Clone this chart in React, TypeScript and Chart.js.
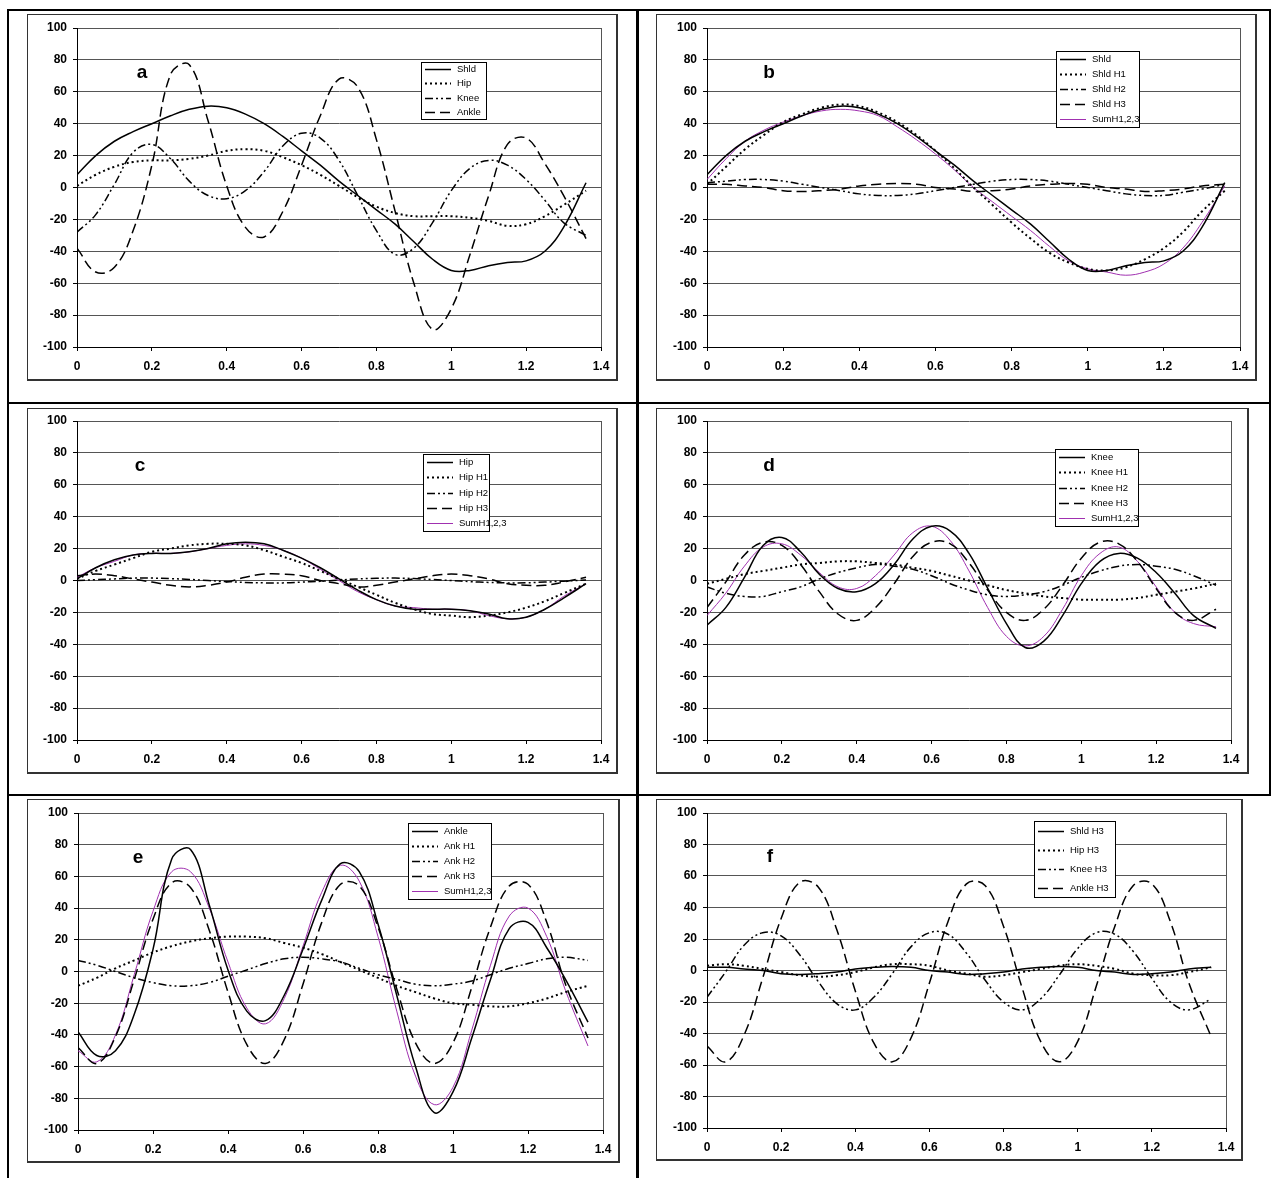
import React, { useEffect, useRef } from 'react';
import { Chart, registerables } from 'chart.js';

Chart.register(...registerables);

// ---------- DATA ----------
const T = [0, 0.05, 0.1, 0.15, 0.2, 0.25, 0.3, 0.35, 0.4, 0.45, 0.5, 0.55, 0.6, 0.65, 0.7, 0.75, 0.8, 0.85, 0.9, 0.95, 1.0, 1.05, 1.1, 1.15, 1.2, 1.25, 1.3, 1.36];

const SHLD = [8, 20, 29, 35, 40, 45, 49, 51, 50, 46, 40, 32, 23, 14, 4, -5, -14, -23, -34, -45, -52, -52, -49, -47, -46, -40, -25, 3];
const SHLD_H1 = [2, 13, 24, 33, 41, 46, 50, 52, 51, 47, 41, 33, 23, 12, 0, -11, -22, -32, -41, -47, -51, -52, -50, -45, -38, -28, -15, -2];
const SHLD_H2 = [3, 4, 5, 5, 4, 2, 0, -2, -4, -5, -5, -4, -2, 0, 2, 4, 5, 5, 4, 2, 0, -2, -4, -5, -5, -3, -1, 2];
const SHLD_H3 = [2, 2, 1, 0, -2, -2.5, -2, -1, 1, 2, 2.5, 2, 0, -1, -2.5, -2, -1, 1, 2, 2.5, 2, 0, -1, -2.5, -2, -1, 1, 2];
const SHLD_SUM = [5, 18, 29, 36, 41, 45, 48, 49, 48, 45, 38, 30, 21, 11, 0, -9, -18, -27, -37, -46, -51, -53, -55, -53, -48, -38, -22, 1];

const HIP = [1, 8, 13, 16, 17, 17, 18, 20, 23, 24, 23, 19, 14, 8, 1, -6, -12, -16, -18, -18, -18, -19, -21, -24, -23, -18, -11, -2];
const HIP_H1 = [1, 6, 10, 14, 18, 20, 22, 23, 23, 22, 19, 15, 11, 6, 1, -4, -9, -14, -18, -21, -22, -23, -22, -20, -17, -13, -8, -2];
const HIP_H2 = [0, 0.5, 1, 1.5, 1.5, 1.2, 0.7, 0, -0.7, -1.2, -1.5, -1.5, -1, -0.5, 0.3, 1, 1.4, 1.5, 1.2, 0.6, 0, -0.7, -1.2, -1.5, -1.4, -1, -0.4, 0.3];
const HIP_H3 = [3, 4, 3, 1, -1, -3, -4, -3, -1, 2, 4, 4, 3, 0, -2, -4, -3, -1, 1, 3, 4, 3, 1, -2, -3, -3, -1, 2];
const HIP_SUM = [2, 8, 12, 16, 17, 17, 18, 20, 22, 23, 22, 19, 14, 7, 0, -7, -12, -16, -17, -18, -18, -19, -22, -24, -23, -18, -10, -2];

const KNEE = [-28, -17, 2, 22, 27, 18, 4, -5, -7, -2, 10, 26, 34, 31, 17, -5, -27, -42, -38, -22, -2, 12, 17, 14, 5, -8, -22, -30];
const KNEE_H1 = [-2, 1, 4, 6, 8, 10, 11, 12, 12, 11, 10, 8, 6, 3, 0, -3, -6, -8, -10, -11, -12, -12, -12, -11, -9, -7, -5, -2];
const KNEE_H2 = [-4, -8, -10, -10, -7, -4, 1, 5, 8, 10, 9, 7, 3, -2, -6, -9, -10, -9, -7, -3, 2, 6, 9, 10, 9, 7, 3, -3];
const KNEE_H3 = [-17, -1, 16, 24, 22, 10, -7, -21, -25, -17, -2, 15, 24, 23, 11, -6, -20, -25, -18, -3, 14, 24, 23, 12, -5, -20, -25, -18];
const KNEE_SUM = [-22, -8, 9, 21, 23, 16, 5, -4, -5, 3, 16, 30, 34, 25, 6, -17, -35, -41, -35, -18, 3, 17, 21, 12, -4, -20, -27, -29];

const ANKLE = [-38, -53, -50, -27, 14, 71, 77, 42, 1, -25, -31, -15, 14, 45, 68, 63, 30, -15, -60, -89, -76, -42, -5, 27, 31, 15, -5, -32];
const ANK_H1 = [-9, -4, 2, 7, 12, 16, 19, 21, 22, 22, 21, 18, 15, 11, 6, 1, -4, -9, -13, -17, -20, -21, -22, -22, -20, -17, -13, -9];
const ANK_H2 = [7, 4, 0, -4, -7, -9, -9, -7, -3, 1, 5, 8, 9, 8, 6, 2, -2, -5, -8, -9, -8, -6, -2, 2, 5, 8, 9, 7];
const ANK_H3 = [-48, -58, -41, -5, 33, 56, 53, 26, -13, -46, -58, -43, -8, 31, 55, 54, 28, -11, -45, -58, -45, -10, 28, 54, 55, 31, -8, -42];
const ANK_SUM = [-50, -57, -40, -2, 38, 63, 63, 40, 6, -23, -33, -17, 16, 50, 67, 57, 22, -25, -66, -84, -73, -37, 4, 35, 40, 22, -12, -47];

const X_TICKS = [0, 0.2, 0.4, 0.6, 0.8, 1, 1.2, 1.4];
const Y_TICKS = [-100, -80, -60, -40, -20, 0, 20, 40, 60, 80, 100];

// ---------- STYLES ----------
type Style = { borderColor: string; borderWidth: number; borderDash: number[] };
const SOLID: Style = { borderColor: '#000', borderWidth: 1.5, borderDash: [] };
const DOTTED: Style = { borderColor: '#000', borderWidth: 2, borderDash: [2, 3] };
const DASHDOT: Style = { borderColor: '#000', borderWidth: 1.5, borderDash: [8, 3, 2, 3, 2, 3] };
const LONGDASH: Style = { borderColor: '#000', borderWidth: 1.5, borderDash: [10, 5] };
const SUMSTYLE: Style = { borderColor: '#A030B0', borderWidth: 1, borderDash: [] };

type Box = { l: number; t: number; r: number; b: number };
type Series = { label: string; data: number[]; style: Style };
type Panel = {
  letter: string;
  frame: Box;
  plot: Box;
  letterPos: [number, number];
  legend: { x: number; y: number; w: number; h: number };
  series: Series[];
};

const PANELS: Panel[] = [
  {
    letter: 'a',
    frame: { l: 27, t: 14, r: 618, b: 381 },
    plot: { l: 77, t: 28, r: 601, b: 347 },
    letterPos: [142, 78],
    legend: { x: 421, y: 62, w: 65, h: 57 },
    series: [
      { label: 'Shld', data: SHLD, style: SOLID },
      { label: 'Hip', data: HIP, style: DOTTED },
      { label: 'Knee', data: KNEE, style: DASHDOT },
      { label: 'Ankle', data: ANKLE, style: LONGDASH },
    ],
  },
  {
    letter: 'b',
    frame: { l: 656, t: 14, r: 1257, b: 381 },
    plot: { l: 707, t: 28, r: 1240, b: 347 },
    letterPos: [769, 78],
    legend: { x: 1056, y: 51, w: 83, h: 76 },
    series: [
      { label: 'Shld', data: SHLD, style: SOLID },
      { label: 'Shld H1', data: SHLD_H1, style: DOTTED },
      { label: 'Shld H2', data: SHLD_H2, style: DASHDOT },
      { label: 'Shld H3', data: SHLD_H3, style: LONGDASH },
      { label: 'SumH1,2,3', data: SHLD_SUM, style: SUMSTYLE },
    ],
  },
  {
    letter: 'c',
    frame: { l: 27, t: 408, r: 618, b: 774 },
    plot: { l: 77, t: 421, r: 601, b: 740 },
    letterPos: [140, 471],
    legend: { x: 423, y: 454, w: 66, h: 77 },
    series: [
      { label: 'Hip', data: HIP, style: SOLID },
      { label: 'Hip H1', data: HIP_H1, style: DOTTED },
      { label: 'Hip H2', data: HIP_H2, style: DASHDOT },
      { label: 'Hip H3', data: HIP_H3, style: LONGDASH },
      { label: 'SumH1,2,3', data: HIP_SUM, style: SUMSTYLE },
    ],
  },
  {
    letter: 'd',
    frame: { l: 656, t: 408, r: 1249, b: 774 },
    plot: { l: 707, t: 421, r: 1231, b: 740 },
    letterPos: [769, 471],
    legend: { x: 1055, y: 449, w: 83, h: 77 },
    series: [
      { label: 'Knee', data: KNEE, style: SOLID },
      { label: 'Knee H1', data: KNEE_H1, style: DOTTED },
      { label: 'Knee H2', data: KNEE_H2, style: DASHDOT },
      { label: 'Knee H3', data: KNEE_H3, style: LONGDASH },
      { label: 'SumH1,2,3', data: KNEE_SUM, style: SUMSTYLE },
    ],
  },
  {
    letter: 'e',
    frame: { l: 27, t: 799, r: 620, b: 1163 },
    plot: { l: 78, t: 813, r: 603, b: 1130 },
    letterPos: [138, 863],
    legend: { x: 408, y: 823, w: 83, h: 76 },
    series: [
      { label: 'Ankle', data: ANKLE, style: SOLID },
      { label: 'Ank H1', data: ANK_H1, style: DOTTED },
      { label: 'Ank H2', data: ANK_H2, style: DASHDOT },
      { label: 'Ank H3', data: ANK_H3, style: LONGDASH },
      { label: 'SumH1,2,3', data: ANK_SUM, style: SUMSTYLE },
    ],
  },
  {
    letter: 'f',
    frame: { l: 656, t: 799, r: 1243, b: 1161 },
    plot: { l: 707, t: 813, r: 1226, b: 1128 },
    letterPos: [770, 862],
    legend: { x: 1034, y: 821, w: 81, h: 76 },
    series: [
      { label: 'Shld H3', data: SHLD_H3, style: SOLID },
      { label: 'Hip H3', data: HIP_H3, style: DOTTED },
      { label: 'Knee H3', data: KNEE_H3, style: DASHDOT },
      { label: 'Ankle H3', data: ANK_H3, style: LONGDASH },
    ],
  },
];

// ---------- PLUGINS ----------
const plotBorder = {
  id: 'plotBorder',
  beforeDatasetsDraw(chart: any) {
    const { ctx, chartArea } = chart;
    ctx.save();
    ctx.strokeStyle = '#555';
    ctx.lineWidth = 1;
    ctx.setLineDash([]);
    ctx.beginPath();
    ctx.moveTo(chartArea.right + 0.5, chartArea.top);
    ctx.lineTo(chartArea.right + 0.5, chartArea.bottom);
    ctx.stroke();
    ctx.restore();
  },
};

const boxLegend = {
  id: 'boxLegend',
  afterDraw(chart: any, _args: any, opts: any) {
    const { ctx } = chart;
    const { x, y, w, h } = opts;
    const ds = chart.data.datasets;
    const n = ds.length;
    const rowH = h / n;
    ctx.save();
    ctx.fillStyle = '#fff';
    ctx.fillRect(x, y, w, h);
    ctx.strokeStyle = '#000';
    ctx.lineWidth = 1;
    ctx.setLineDash([]);
    ctx.strokeRect(x + 0.5, y + 0.5, w, h);
    ctx.font = '9.5px "Liberation Sans", Arial, sans-serif';
    ctx.textBaseline = 'middle';
    ctx.textAlign = 'left';
    ds.forEach((d: any, i: number) => {
      const cy = Math.round(y + (i + 0.5) * rowH) + 0.5;
      ctx.beginPath();
      ctx.setLineDash(d.borderDash || []);
      ctx.lineWidth = d.borderWidth;
      ctx.strokeStyle = d.borderColor;
      ctx.moveTo(x + 4, cy);
      ctx.lineTo(x + 30, cy);
      ctx.stroke();
      ctx.setLineDash([]);
      ctx.fillStyle = '#000';
      ctx.fillText(d.label, x + 36, cy);
    });
    ctx.restore();
  },
};

const TICK_FONT = { family: '"Liberation Sans", Arial, sans-serif', size: 12, weight: 'bold' as const };

function ChartPanel({ p }: { p: Panel }) {
  const ref = useRef<HTMLCanvasElement>(null);
  const w = p.frame.r - p.frame.l;
  const h = p.frame.b - p.frame.t;
  useEffect(() => {
    const yWidth = p.plot.l - p.frame.l;
    const xHeight = p.frame.b - p.plot.b;
    const chart = new Chart(ref.current as HTMLCanvasElement, {
      type: 'scatter',
      data: {
        datasets: p.series.map((s) => ({
          label: s.label,
          data: T.map((x, i) => ({ x, y: s.data[i] })),
          showLine: true,
          pointRadius: 0,
          pointHoverRadius: 0,
          tension: 0.4,
          fill: false,
          borderColor: s.style.borderColor,
          borderWidth: s.style.borderWidth,
          borderDash: s.style.borderDash,
        })),
      },
      options: {
        animation: false,
        responsive: false,
        events: [],
        layout: {
          padding: { left: 0, top: p.plot.t - p.frame.t, right: p.frame.r - p.plot.r, bottom: 0 },
        },
        plugins: {
          legend: { display: false },
          tooltip: { enabled: false },
          // @ts-ignore
          boxLegend: {
            x: p.legend.x - p.frame.l,
            y: p.legend.y - p.frame.t,
            w: p.legend.w,
            h: p.legend.h,
          },
        },
        scales: {
          x: {
            type: 'linear',
            min: 0,
            max: 1.4,
            afterFit: (s: any) => {
              s.height = xHeight;
              s.paddingLeft = 0;
              s.paddingRight = 0;
            },
            afterBuildTicks: (s: any) => {
              s.ticks = X_TICKS.map((v) => ({ value: v }));
            },
            ticks: {
              callback: (v: any) => String(Math.round(Number(v) * 10) / 10),
              font: TICK_FONT,
              color: '#000',
              padding: 8,
              maxRotation: 0,
              autoSkip: false,
            },
            grid: { drawOnChartArea: false, drawTicks: true, tickLength: 4, tickColor: '#000', tickWidth: 1 },
            border: { display: true, color: '#000', width: 1 },
          },
          y: {
            type: 'linear',
            min: -100,
            max: 100,
            afterFit: (s: any) => {
              s.width = yWidth;
              s.paddingTop = 0;
              s.paddingBottom = 0;
            },
            afterBuildTicks: (s: any) => {
              s.ticks = Y_TICKS.map((v) => ({ value: v }));
            },
            ticks: { font: TICK_FONT, color: '#000', padding: 6, autoSkip: false },
            grid: { color: '#555', lineWidth: 1, drawTicks: true, tickLength: 4, tickColor: '#000', tickWidth: 1 },
            border: { display: true, color: '#000', width: 1 },
          },
        },
      },
      plugins: [plotBorder, boxLegend],
    } as any);
    return () => chart.destroy();
  }, []);
  return (
    <>
      <canvas
        ref={ref}
        width={w}
        height={h}
        style={{ position: 'absolute', left: p.frame.l, top: p.frame.t, width: w, height: h }}
      />
      <div
        style={{
          position: 'absolute',
          left: p.frame.l,
          top: p.frame.t,
          width: w,
          height: h,
          boxSizing: 'border-box',
          borderTop: '1px solid #333',
          borderLeft: '1px solid #333',
          borderRight: '2px solid #333',
          borderBottom: '2px solid #333',
          pointerEvents: 'none',
        }}
      />
      <div
        style={{
          position: 'absolute',
          left: p.letterPos[0] - 15,
          width: 30,
          top: p.letterPos[1] - 16,
          fontFamily: '"Liberation Sans", Arial, sans-serif',
          fontWeight: 'bold',
          fontSize: 19,
          lineHeight: '19px',
          textAlign: 'center',
          color: '#000',
        }}
      >
        {p.letter}
      </div>
    </>
  );
}

const line = (l: number, t: number, w: number, h: number) => (
  <div style={{ position: 'absolute', left: l, top: t, width: w, height: h, background: '#000' }} />
);

export default function App() {
  return (
    <div style={{ position: 'absolute', left: 0, top: 0, width: 1276, height: 1178, background: '#fff', overflow: 'hidden' }}>
      {line(7, 9, 1264, 2)}
      {line(7, 9, 2, 1169)}
      {line(636, 9, 3, 1169)}
      {line(1269, 9, 2, 787)}
      {line(7, 402, 1264, 2)}
      {line(7, 794, 1264, 2)}
      {PANELS.map((p) => (
        <ChartPanel key={p.letter} p={p} />
      ))}
    </div>
  );
}
